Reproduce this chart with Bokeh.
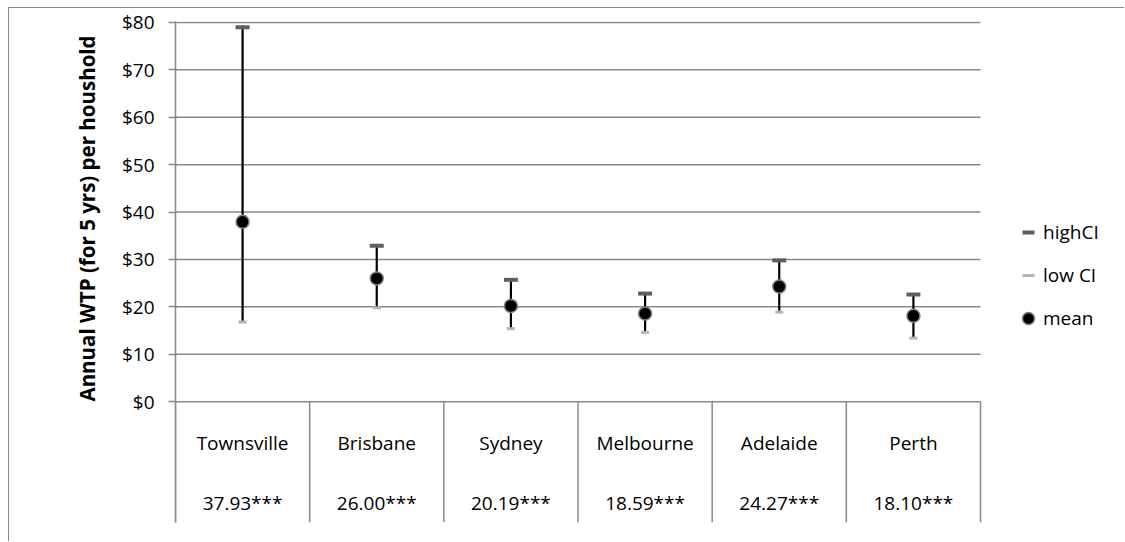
from bokeh.plotting import figure
from bokeh.models import (ColumnDataSource, Range1d, FixedTicker, NumeralTickFormatter,
                          Legend, LegendItem, Title)
from bokeh.core.properties import value
from bokeh.embed import file_html
from bokeh.resources import INLINE
import numpy as np

# ---- data ----
cities = ["Townsville", "Brisbane", "Sydney", "Melbourne", "Adelaide", "Perth"]
mean_wtp = [37.93, 26.00, 20.19, 18.59, 24.27, 18.10]
high_ci = [79.0, 32.9, 25.7, 22.8, 29.8, 22.6]
low_ci = [16.8, 19.8, 15.4, 14.6, 18.9, 13.4]
stars = ["***", "***", "***", "***", "***", "***"]
y_ticks = [0, 10, 20, 30, 40, 50, 60, 70, 80]

FONT = "Open Sans"
GRID = "#898989"

n = len(cities)
xs = np.arange(n) + 0.5
src = ColumnDataSource(dict(x=xs, mean=mean_wtp, hi=high_ci, lo=low_ci, city=cities,
                            lab=[f"{m:.2f}{s}" for m, s in zip(mean_wtp, stars)]))

W, H = 1116, 534
FL, FR, FT, FB = 166, 971, 13, 514   # plotting-area edges in figure px
x_end = n * (W - FL) / (FR - FL)     # frame runs to the right edge so the legend fits inside
p = figure(width=W, height=H, output_backend="svg", toolbar_location=None, title=None,
           x_range=Range1d(0, x_end), y_range=Range1d(-25.5, 80.2),
           min_border_left=FL, min_border_right=0, min_border_top=FT,
           min_border_bottom=H - FB, x_axis_location=None)
p.outline_line_color = None
p.background_fill_color = "white"
p.styles = {"border-top": "1px solid #8a8a8a", "border-left": "1px solid #8a8a8a",
            "margin-left": "8px", "margin-top": "7px"}

# y axis
ax = p.yaxis[0]
ax.ticker = FixedTicker(ticks=y_ticks)
ax.formatter = NumeralTickFormatter(format="$0")
ax.axis_line_color = GRID
ax.axis_line_width = 1.5
ax.major_tick_line_color = GRID
ax.major_tick_line_width = 1.5
ax.major_tick_out = 7
ax.major_tick_in = 0
ax.minor_tick_line_color = None
ax.major_label_standoff = 14
ax.major_label_text_font = FONT
ax.major_label_text_font_size = "19px"
ax.major_label_text_color = "black"

p.xgrid.visible = False
p.ygrid.visible = False
# horizontal gridlines limited to the category span
p.segment(x0=0, y0=y_ticks, x1=n, y1=y_ticks, line_color=GRID, line_width=1.5)

# y title (centred on the $0-$80 band)
t = Title(text="Annual WTP (for 5 yrs) per houshold", align="left", offset=121, standoff=35,
          text_font=FONT, text_font_size="20.5px", text_font_style="bold", text_color="black")
p.add_layout(t, "left")

# category table below $0
bounds = np.arange(n + 1)
p.segment(x0=bounds, y0=0, x1=bounds, y1=-25.5, line_color=GRID, line_width=1.5)
p.text(x="x", y=-8.65, text="city", source=src, text_align="center", text_baseline="middle",
       text_font=value(FONT), text_font_size="19px", text_color="black")
p.text(x="x", y=-21.3, text="lab", source=src, text_align="center", text_baseline="middle",
       text_font=value(FONT), text_font_size="19px", text_color="black")

# error bars
p.segment(x0="x", y0="lo", x1="x", y1="hi", source=src, line_color="black", line_width=2.2)
r_hi = p.scatter(x="x", y="hi", source=src, marker="dash", size=14, line_width=4,
                 line_color="#5f5f5f")
r_lo = p.scatter(x="x", y="lo", source=src, marker="dash", size=8, line_width=3,
                 line_color="#b4b4b4")
r_mean = p.scatter(x="x", y="mean", source=src, marker="circle", size=13,
                   fill_color="black", line_color="#808080", line_width=1.5)

legend = Legend(items=[LegendItem(label="highCI", renderers=[r_hi]),
                       LegendItem(label="low CI", renderers=[r_lo]),
                       LegendItem(label="mean", renderers=[r_mean])],
                location=(838, 189), glyph_width=30, glyph_height=30, label_height=20,
                spacing=13, padding=5, margin=0, label_standoff=0,
                border_line_color=None, background_fill_alpha=0,
                label_text_font=FONT, label_text_font_size="19px", label_text_color="black")
p.add_layout(legend)

open("out.html", "w").write(file_html(p, INLINE))
